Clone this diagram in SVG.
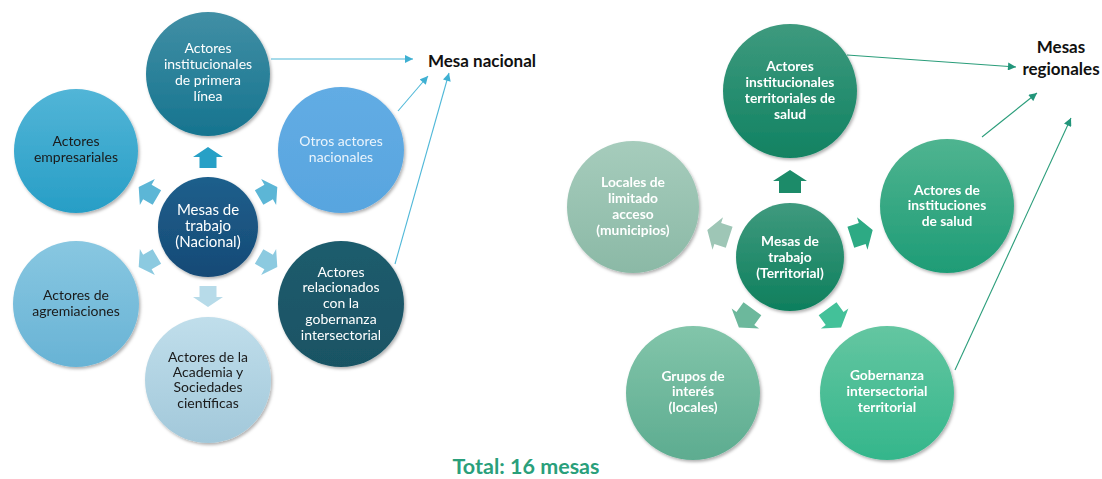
<svg xmlns="http://www.w3.org/2000/svg" width="1102" height="479" viewBox="0 0 1102 479">
  <style>
    text { font-family: Lato, "Open Sans", "Liberation Sans", sans-serif; text-anchor: middle; }
    .lt { font-size: 14px; }
    .ct { font-size: 15px; }
    .rt { font-size: 13.8px; font-weight: bold; fill: #ffffff; }
    .light { fill: #ffffff; }
    .dark { fill: #1a1a1a; }
    .pale { fill: #eaf4fc; }
    .title { font-size: 17px; font-weight: bold; fill: #111111; }
    .total { font-size: 21.5px; font-weight: bold; fill: #2a9f7b; }
    .lnL { stroke: #4fb8d8; stroke-width: 1.1; fill: none; marker-end: url(#headL); }
    .lnR { stroke: #2a9d7a; stroke-width: 1.1; fill: none; marker-end: url(#headR); }
    .node { filter: url(#shadow); }
  </style>
  <defs>
    <filter id="shadow" x="-20%" y="-20%" width="150%" height="150%">
      <feDropShadow dx="1.5" dy="2" stdDeviation="1.6" flood-color="#000" flood-opacity="0.3"/>
    </filter>
    <marker id="headL" viewBox="0 0 10 10" refX="10" refY="5" markerWidth="9" markerHeight="8" markerUnits="userSpaceOnUse" orient="auto">
      <path d="M0,0 L10,5 L0,10 Z" fill="#3fb0d2"/>
    </marker>
    <marker id="headR" viewBox="0 0 10 10" refX="10" refY="5" markerWidth="9" markerHeight="8" markerUnits="userSpaceOnUse" orient="auto">
      <path d="M0,0 L10,5 L0,10 Z" fill="#22957a"/>
    </marker>
    <!-- block arrow pointing up, tip at origin -->
    <path id="arrS" d="M0,0 L15,10 L8.5,10 L8.5,21 L-8.5,21 L-8.5,10 L-15,10 Z"/>
    <path id="arrM" d="M0,0 L17,11 L11,11 L11,23 L-11,23 L-11,11 L-17,11 Z"/>
    <!-- national palette -->
    <linearGradient id="gN0" x1="0" y1="0" x2="0" y2="1"><stop offset="0" stop-color="#1e5f8c"/><stop offset="1" stop-color="#164a76"/></linearGradient>
    <linearGradient id="gN1" x1="0" y1="0" x2="0" y2="1"><stop offset="0" stop-color="#418fa5"/><stop offset="1" stop-color="#16748f"/></linearGradient>
    <linearGradient id="gN2" x1="0" y1="0" x2="0" y2="1"><stop offset="0" stop-color="#52b5d7"/><stop offset="1" stop-color="#279ec6"/></linearGradient>
    <linearGradient id="gN3" x1="0" y1="0" x2="0" y2="1"><stop offset="0" stop-color="#62ace4"/><stop offset="1" stop-color="#58a5df"/></linearGradient>
    <linearGradient id="gN4" x1="0" y1="0" x2="0" y2="1"><stop offset="0" stop-color="#88c7e1"/><stop offset="1" stop-color="#68b3d5"/></linearGradient>
    <linearGradient id="gN5" x1="0" y1="0" x2="0" y2="1"><stop offset="0" stop-color="#c0deeb"/><stop offset="1" stop-color="#a2c8da"/></linearGradient>
    <linearGradient id="gN6" x1="0" y1="0" x2="0" y2="1"><stop offset="0" stop-color="#1f5c6d"/><stop offset="1" stop-color="#195364"/></linearGradient>
    <!-- territorial palette -->
    <linearGradient id="gT0" x1="0" y1="0" x2="0" y2="1"><stop offset="0" stop-color="#3f9a7e"/><stop offset="1" stop-color="#0e7f5d"/></linearGradient>
    <linearGradient id="gT1" x1="0" y1="0" x2="0" y2="1"><stop offset="0" stop-color="#3e9a7e"/><stop offset="1" stop-color="#118262"/></linearGradient>
    <linearGradient id="gT2" x1="0" y1="0" x2="0" y2="1"><stop offset="0" stop-color="#4fb490"/><stop offset="1" stop-color="#1e9c76"/></linearGradient>
    <linearGradient id="gT3" x1="0" y1="0" x2="0" y2="1"><stop offset="0" stop-color="#64c6a1"/><stop offset="1" stop-color="#34b68b"/></linearGradient>
    <linearGradient id="gT4" x1="0" y1="0" x2="0" y2="1"><stop offset="0" stop-color="#82c5aa"/><stop offset="1" stop-color="#5dac90"/></linearGradient>
    <linearGradient id="gT5" x1="0" y1="0" x2="0" y2="1"><stop offset="0" stop-color="#a6ccbc"/><stop offset="1" stop-color="#8bb9a6"/></linearGradient>
  </defs>

  <!-- connectors: radial block arrows and lines to the summary labels -->
  <g id="connectors">
    <g id="radial-national">
      <use href="#arrS" transform="translate(208,147) rotate(0)" fill="#27a0c6"/>
      <use href="#arrS" transform="translate(138.7,187) rotate(-60)" fill="#5cb6d6"/>
      <use href="#arrS" transform="translate(277.3,187) rotate(60)" fill="#5cb6d6"/>
      <use href="#arrS" transform="translate(138.7,267) rotate(-120)" fill="#8ccae0"/>
      <use href="#arrS" transform="translate(277.3,267) rotate(120)" fill="#8ccae0"/>
      <use href="#arrS" transform="translate(208,307) rotate(180)" fill="#b7dbe9"/>
    </g>
    <g id="radial-territorial">
      <use href="#arrM" transform="translate(790,170) rotate(0)" fill="#1c8b69"/>
      <use href="#arrM" transform="translate(872.7,230.1) rotate(72)" fill="#2daa84"/>
      <use href="#arrM" transform="translate(841.1,327.4) rotate(144)" fill="#43c199"/>
      <use href="#arrM" transform="translate(738.9,327.4) rotate(216)" fill="#6cb89c"/>
      <use href="#arrM" transform="translate(707.3,230.1) rotate(288)" fill="#9ec6b6"/>
    </g>
    <line class="lnL" x1="271" y1="59" x2="413" y2="59"/>
    <line class="lnL" x1="398" y1="111" x2="428" y2="76"/>
    <line class="lnL" x1="395" y1="264" x2="449" y2="73"/>
    <line class="lnR" x1="847" y1="55" x2="1016" y2="67"/>
    <line class="lnR" x1="982" y1="137" x2="1037" y2="93"/>
    <line class="lnR" x1="955" y1="370" x2="1071" y2="118"/>
  </g>

  <!-- national cluster -->
  <g id="n-center" class="node">
    <circle cx="208" cy="227" r="50" fill="url(#gN0)"/>
    <text class="ct light"><tspan x="208" y="215">Mesas de</tspan><tspan x="208" y="231">trabajo</tspan><tspan x="208" y="247">(Nacional)</tspan></text>
  </g>
  <g id="n-primera-linea" class="node">
    <circle cx="208" cy="74" r="62" fill="url(#gN1)"/>
    <text class="lt light"><tspan x="208" y="53">Actores</tspan><tspan x="208" y="69">institucionales</tspan><tspan x="208" y="85">de primera</tspan><tspan x="208" y="101">línea</tspan></text>
  </g>
  <g id="n-empresariales" class="node">
    <circle cx="76" cy="151" r="62" fill="url(#gN2)"/>
    <text class="lt dark"><tspan x="76" y="146">Actores</tspan><tspan x="76" y="162">empresariales</tspan></text>
  </g>
  <g id="n-otros" class="node">
    <circle cx="341" cy="150" r="63" fill="url(#gN3)"/>
    <text class="lt pale"><tspan x="341" y="146">Otros actores</tspan><tspan x="341" y="162">nacionales</tspan></text>
  </g>
  <g id="n-agremiaciones" class="node">
    <circle cx="76" cy="304" r="63" fill="url(#gN4)"/>
    <text class="lt dark"><tspan x="76" y="300">Actores de</tspan><tspan x="76" y="316">agremiaciones</tspan></text>
  </g>
  <g id="n-academia" class="node">
    <circle cx="208" cy="380" r="63" fill="url(#gN5)"/>
    <text class="lt dark"><tspan x="208" y="362">Actores de la</tspan><tspan x="208" y="377">Academia y</tspan><tspan x="208" y="392">Sociedades</tspan><tspan x="208" y="408">científicas</tspan></text>
  </g>
  <g id="n-gobernanza" class="node">
    <circle cx="341" cy="304" r="63" fill="url(#gN6)"/>
    <text class="lt light"><tspan x="341" y="277">Actores</tspan><tspan x="341" y="292">relacionados</tspan><tspan x="341" y="308">con la</tspan><tspan x="341" y="324">gobernanza</tspan><tspan x="341" y="340">intersectorial</tspan></text>
  </g>

  <!-- territorial cluster -->
  <g id="t-center" class="node">
    <circle cx="790" cy="257" r="54" fill="url(#gT0)"/>
    <text class="rt"><tspan x="790" y="246">Mesas de</tspan><tspan x="790" y="262">trabajo</tspan><tspan x="790" y="278">(Territorial)</tspan></text>
  </g>
  <g id="t-institucionales" class="node">
    <circle cx="790" cy="91" r="67" fill="url(#gT1)"/>
    <text class="rt"><tspan x="790" y="71">Actores</tspan><tspan x="790" y="87">institucionales</tspan><tspan x="790" y="103">territoriales de</tspan><tspan x="790" y="119">salud</tspan></text>
  </g>
  <g id="t-instituciones-salud" class="node">
    <circle cx="947" cy="206" r="67" fill="url(#gT2)"/>
    <text class="rt"><tspan x="947" y="195">Actores de</tspan><tspan x="947" y="210">instituciones</tspan><tspan x="947" y="226">de salud</tspan></text>
  </g>
  <g id="t-gobernanza" class="node">
    <circle cx="887" cy="393" r="67" fill="url(#gT3)"/>
    <text class="rt"><tspan x="887" y="380">Gobernanza</tspan><tspan x="887" y="396">intersectorial</tspan><tspan x="887" y="412">territorial</tspan></text>
  </g>
  <g id="t-grupos" class="node">
    <circle cx="693" cy="393" r="67" fill="url(#gT4)"/>
    <text class="rt"><tspan x="693" y="381">Grupos de</tspan><tspan x="693" y="396">interés</tspan><tspan x="693" y="412">(locales)</tspan></text>
  </g>
  <g id="t-locales" class="node">
    <circle cx="633" cy="207" r="66" fill="url(#gT5)"/>
    <text class="rt"><tspan x="633" y="187">Locales de</tspan><tspan x="633" y="203">limitado</tspan><tspan x="633" y="219">acceso</tspan><tspan x="633" y="235">(municipios)</tspan></text>
  </g>

  <!-- summary labels -->
  <g id="label-nacional">
    <text class="title" x="482" y="67">Mesa nacional</text>
  </g>
  <g id="label-regionales">
    <text class="title"><tspan x="1061" y="53">Mesas</tspan><tspan x="1061" y="75">regionales</tspan></text>
  </g>
  <g id="label-total">
    <text class="total" x="526" y="474">Total: 16 mesas</text>
  </g>
</svg>
